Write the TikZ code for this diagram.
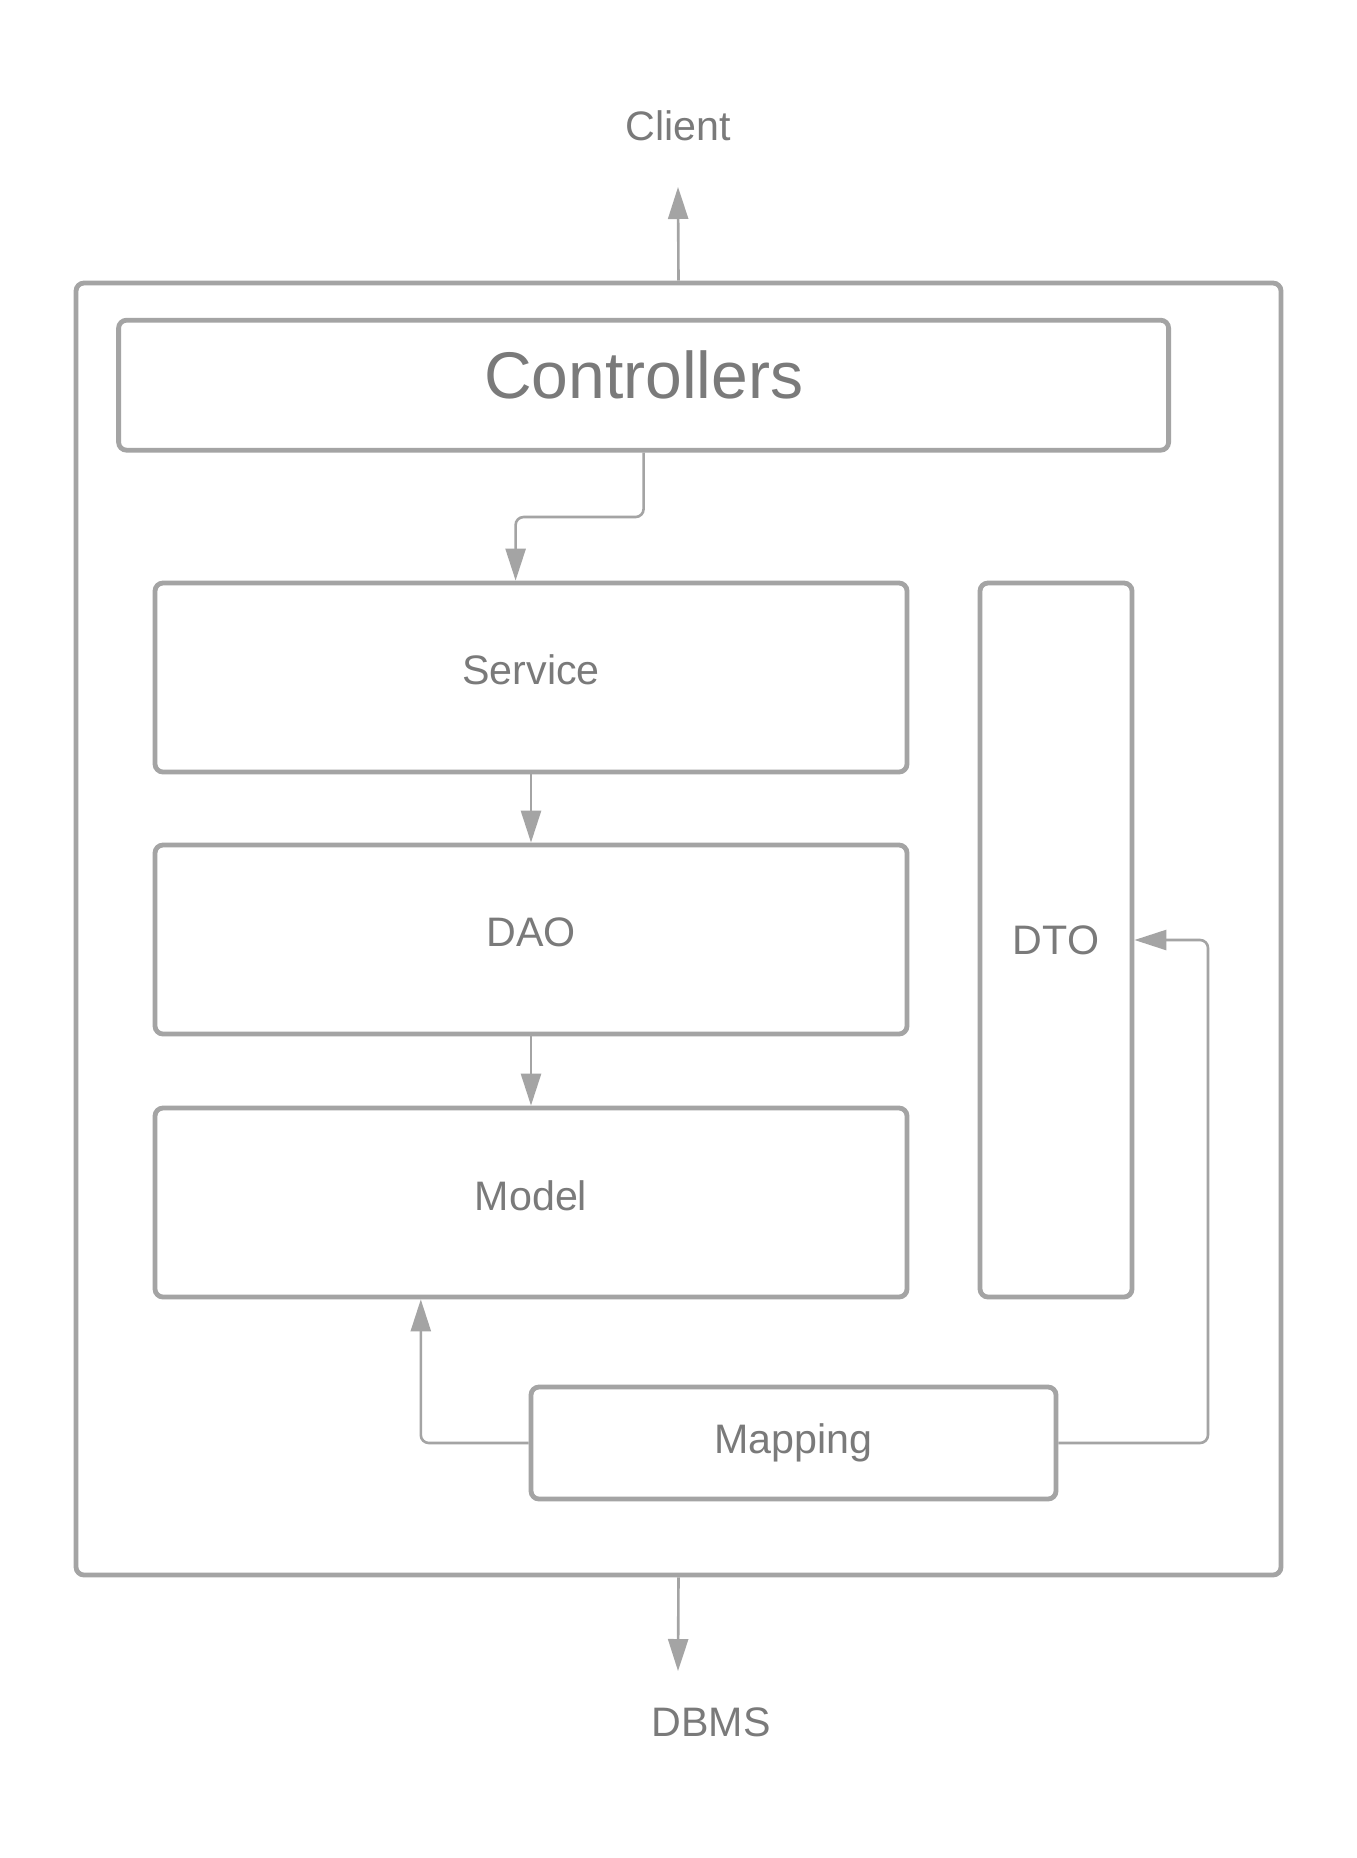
\documentclass[tikz,border=0pt]{standalone}
\usepackage{fontspec}
\setmainfont{Liberation Sans}
\usetikzlibrary{arrows.meta}
\definecolor{linegray}{HTML}{A4A4A4}
\definecolor{textgray}{HTML}{7A7A7A}
\tikzset{
  box/.style={draw=linegray, line width=2.4pt, rounded corners=4pt, fill=white, inner sep=0pt},
  lbl/.style={text=textgray, font=\fontsize{20.6pt}{24pt}\selectfont},
  conn/.style={draw=linegray, line width=1.3pt, rounded corners=4pt, -{Triangle[length=16pt,width=10pt]}},
}
\begin{document}
\begin{tikzpicture}[x=0.5pt, y=-0.5pt]
\useasboundingbox (0,0) rectangle (1356,1858);
% outer frame
\node[box, minimum width=602.5pt, minimum height=646pt] (outer) at (678.5,929) {};
% layers
\node[box, minimum width=525pt, minimum height=65pt,
  label={[text=textgray, font=\fontsize{33pt}{38pt}\selectfont, yshift=5pt]center:Controllers}] (ctrl) at (643.6,385.2) {};
\node[box, minimum width=376pt, minimum height=94.5pt,
  label={[lbl, yshift=4pt]center:Service}] (svc) at (531,677.5) {};
\node[box, minimum width=376pt, minimum height=94.5pt,
  label={[lbl, yshift=3.5pt]center:DAO}] (dao) at (531,939.5) {};
\node[box, minimum width=376pt, minimum height=94.5pt,
  label={[lbl, yshift=3.5pt]center:Model}] (model) at (531,1202.5) {};
\node[box, minimum width=76pt, minimum height=357pt,
  label={[lbl]center:DTO}] (dto) at (1056,940) {};
\node[box, minimum width=262.5pt, minimum height=56pt,
  label={[lbl, yshift=0pt]center:Mapping}] (map) at (793.5,1443) {};
% outside labels
\node[lbl] (client) at (678,126) {Client};
\node[lbl] (dbms) at (711,1722) {DBMS};
\coordinate (clientend) at (678,187);
\coordinate (dbmsend) at (678,1671);
% connectors
\draw[conn] (outer.north) -- (clientend);
\draw[conn] (outer.south) -- (dbmsend);
\coordinate (k1) at (643.6,517);
\coordinate (k2) at (515.6,517);
\draw[conn] (ctrl.south) -- (k1) -- (k2) -- (k2 |- svc.north);
\draw[conn] (svc.south) -- (dao.north);
\draw[conn] (dao.south) -- (model.north);
\coordinate (m1) at (420.8,1443);
\draw[conn] (map.west) -- (m1) -- (m1 |- model.south);
\coordinate (d1) at (1208,1443);
\coordinate (d2) at (1208,940);
\draw[conn] (map.east) -- (d1) -- (d2) -- (dto.east);
\end{tikzpicture}
\end{document}
